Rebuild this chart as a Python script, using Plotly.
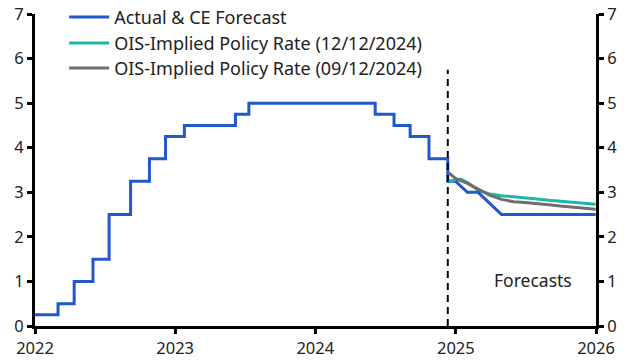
import plotly.graph_objects as go

# Actual policy rate (step)
actual_dates = ["2022-01-01", "2022-03-02", "2022-04-13", "2022-06-01", "2022-07-13",
                "2022-09-07", "2022-10-26", "2022-12-07", "2023-01-25", "2023-06-07",
                "2023-07-12", "2024-06-05", "2024-07-24", "2024-09-04", "2024-10-23",
                "2024-12-11", "2024-12-31"]
actual_vals = [0.25, 0.5, 1.0, 1.5, 2.5, 3.25, 3.75, 4.25, 4.5, 4.75, 5.0,
               4.75, 4.5, 4.25, 3.75, 3.25, 3.25]

# CE forecast
fc_dates = ["2024-12-31", "2025-01-31", "2025-02-28", "2025-03-31", "2025-04-30",
            "2025-06-30", "2025-09-30", "2025-12-31"]
fc_vals = [3.25, 3.0, 3.0, 2.75, 2.5, 2.5, 2.5, 2.5]

# OIS-implied (12/12/2024)
ois12_dates = ["2024-12-12", "2024-12-31", "2025-01-15", "2025-01-31", "2025-02-28",
               "2025-03-31", "2025-04-30", "2025-05-31", "2025-06-30", "2025-07-31",
               "2025-08-31", "2025-09-30", "2025-10-31", "2025-11-30", "2025-12-31"]
ois12_vals = [3.25, 3.27, 3.29, 3.22, 3.05, 2.96, 2.92, 2.90, 2.88, 2.85,
              2.82, 2.80, 2.77, 2.75, 2.73]

# OIS-implied (09/12/2024)
ois09_dates = ["2024-12-13", "2024-12-31", "2025-01-31", "2025-02-28", "2025-03-31",
               "2025-04-30", "2025-05-31", "2025-06-30", "2025-07-31", "2025-08-31",
               "2025-09-30", "2025-10-31", "2025-11-30", "2025-12-31"]
ois09_vals = [3.44, 3.31, 3.20, 3.07, 2.93, 2.84, 2.79, 2.77, 2.75, 2.72,
              2.69, 2.67, 2.64, 2.62]

BLUE = "#2158CC"
TEAL = "#1BB8AA"
GRAY = "#6E6E6E"
FONT = "Noto Sans"

fig = go.Figure()
fig.add_trace(go.Scatter(x=actual_dates, y=actual_vals, mode="lines", line_shape="hv",
                         line=dict(color=BLUE, width=3), name="Actual & CE Forecast",
                         legend="legend"))
fig.add_trace(go.Scatter(x=ois12_dates, y=ois12_vals, mode="lines",
                         line=dict(color=TEAL, width=3), name="OIS-Implied Policy Rate (12/12/2024)",
                         legend="legend2"))
fig.add_trace(go.Scatter(x=ois09_dates, y=ois09_vals, mode="lines",
                         line=dict(color=GRAY, width=3), name="OIS-Implied Policy Rate (09/12/2024)",
                         legend="legend3"))
fig.add_trace(go.Scatter(x=fc_dates, y=fc_vals, mode="lines",
                         line=dict(color=BLUE, width=3), showlegend=False))
fig.add_trace(go.Scatter(x=["2022-01-01"], y=[0], mode="lines", yaxis="y2",
                         line=dict(width=0), showlegend=False, hoverinfo="skip"))

fig.add_shape(type="line", x0="2024-12-11", x1="2024-12-11", y0=0, y1=5.75,
              xref="x", yref="y", line=dict(color="black", width=2, dash="7px,5px"))

fig.add_annotation(x="2025-07-20", y=1.03, xref="x", yref="y", text="Forecasts",
                   showarrow=False, font=dict(family=FONT, size=17.5, color="#222"))

axis_common = dict(showgrid=False, zeroline=False, showline=True, linecolor="black",
                   linewidth=3, ticks="outside", tickcolor="black", tickwidth=2.5,
                   ticklen=5, automargin=False,
                   tickfont=dict(family=FONT, size=16.5, color="#222"))

legend_common = dict(x=0.052, xanchor="left", yanchor="top", bgcolor="rgba(0,0,0,0)",
                     font=dict(family=FONT, size=18, color="#222"), itemwidth=40)

fig.update_layout(
    width=631, height=364,
    margin=dict(l=35, r=35, t=14, b=38, autoexpand=False),
    plot_bgcolor="white", paper_bgcolor="white",
    xaxis=dict(range=["2022-01-01", "2026-01-01"], tickvals=["2022-01-01", "2023-01-01",
               "2024-01-01", "2025-01-01", "2026-01-01"], ticktext=["2022", "2023", "2024", "2025", "2026"],
               **axis_common),
    yaxis=dict(range=[0, 7], dtick=1, **axis_common),
    yaxis2=dict(range=[0, 7], dtick=1, overlaying="y", side="right", **axis_common),
    legend=dict(y=1.049, **legend_common),
    legend2=dict(y=0.9657, **legend_common),
    legend3=dict(y=0.8856, **legend_common),
    showlegend=True,
)

fig.write_html("out.html", config={"displayModeBar": False},
               post_script="document.body.style.margin='0';")
